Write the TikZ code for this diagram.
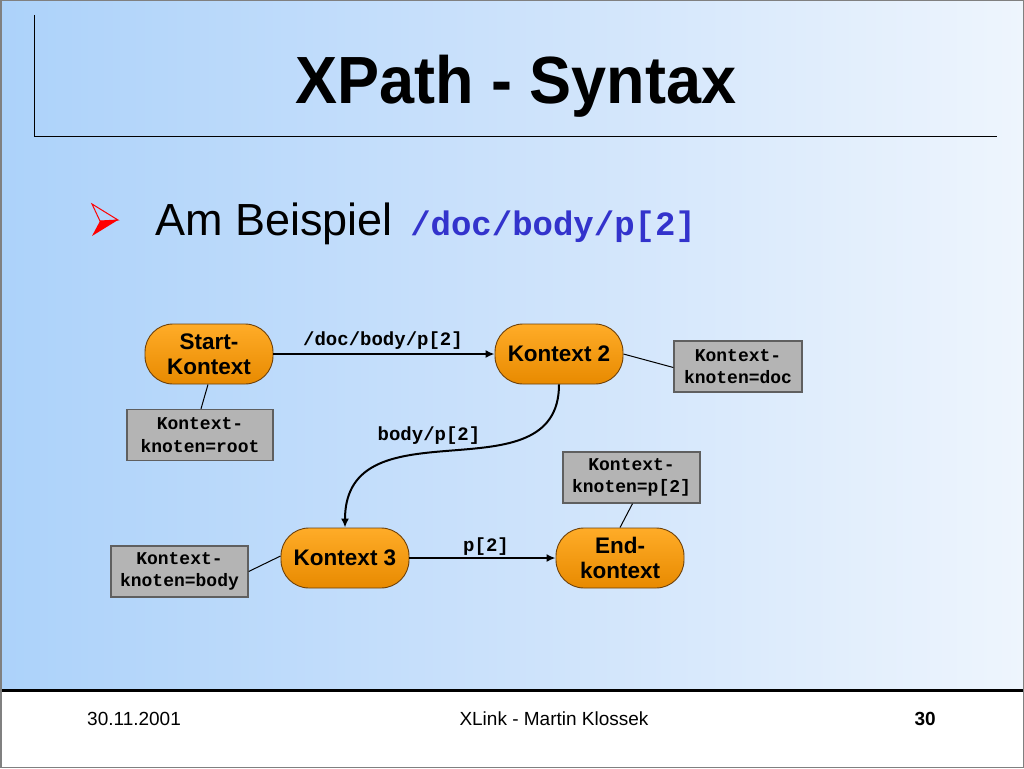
\documentclass[tikz,border=0pt]{standalone}
\usepackage{fontspec}
\setmainfont{Liberation Sans}
\setmonofont{Liberation Mono}
\usetikzlibrary{arrows.meta}
\definecolor{bgL}{RGB}{172,210,250}
\definecolor{bgM}{RGB}{204,226,251}
\definecolor{bgR}{RGB}{238,245,253}
\definecolor{orA}{RGB}{255,172,40}
\definecolor{orB}{RGB}{232,138,0}
\definecolor{orD}{RGB}{110,65,10}
\definecolor{boxfill}{RGB}{180,180,180}
\definecolor{boxborder}{RGB}{95,95,95}
\definecolor{codeblue}{RGB}{51,51,204}
\tikzset{
  ctx/.style={draw=orD, line width=0.9pt, rounded corners=28pt, top color=orA, bottom color=orB,
    minimum width=128pt, minimum height=60pt, inner sep=0pt, align=center,
    font=\fontsize{22.5}{25}\selectfont\bfseries},
  kbox/.style={draw=boxborder, line width=1.3pt, fill=boxfill, minimum height=51pt, inner sep=0pt,
    align=center, font=\fontsize{18}{22.5}\selectfont\ttfamily\bfseries},
  lbl/.style={inner sep=0pt, font=\fontsize{19}{22}\selectfont\ttfamily\bfseries},
  arr/.style={line width=2pt, -{Latex[length=9pt,width=8pt]}},
  thin/.style={line width=1pt}
}
\begin{document}
\begin{tikzpicture}[x=1pt,y=-1pt]
\useasboundingbox (0,0) rectangle (1024,768);
% background
\shade[left color=bgL, right color=bgR, middle color=bgM] (0,0) rectangle (1024,690);
\fill[white] (0,690) rectangle (1024,768);
\draw[line width=3pt] (0,690) -- (1024,690);
\draw[gray, line width=1.5pt] (0.75,0.75) rectangle (1023.25,767.25);
% title frame
\draw[line width=1pt] (34,15) -- (34,136) -- (997,136);
\node[anchor=base, inner sep=0pt, font=\fontsize{63}{70}\selectfont\bfseries] (title) at (516,103) {\scalebox{1}[1.06]{XPath - Syntax}};
% bullet
\draw[red, line width=1pt, line join=miter] (92,204) -- (118,220) -- (100,221) -- cycle;
\fill[red] (100,221) -- (118,220) -- (92,236) -- cycle;
\node[anchor=base west, inner sep=0pt, font=\fontsize{45}{50}\selectfont] (bullet) at (155,235)
  {Am Beispiel\hspace{5pt} {\fontsize{34}{36}\selectfont\ttfamily\bfseries\color{codeblue}/doc/body/p[2]}};
% context nodes
\node[ctx] (start) at (209,354) {Start-\\Kontext};
\node[ctx] (k2) at (559,354) {Kontext 2};
\node[ctx] (k3) at (345,558) {Kontext 3};
\node[ctx] (endk) at (620,558) {End-\\kontext};
% gray boxes
\node[kbox, minimum width=146pt] (root) at (200,435) {Kontext-\\knoten=root};
\node[kbox, minimum width=128pt] (doc) at (738,366.5) {Kontext-\\knoten=doc};
\node[kbox, minimum width=137pt] (p2box) at (631.5,477.5) {Kontext-\\knoten=p[2]};
\node[kbox, minimum width=137pt] (body) at (179.5,571.5) {Kontext-\\knoten=body};
% thin connectors
\draw[thin] ([xshift=-1pt]start.south) -- ([xshift=1pt]root.north);
\draw[thin] (k2.east) -- ([yshift=-1pt]doc.west);
\draw[thin] ([xshift=1pt]p2box.south) -- (endk.north);
\draw[thin] ([yshift=2pt]k3.west) -- (body.east);
% arrows
\draw[arr] (start.east) -- (k2.west);
\draw[arr] (k2.south) .. controls +(0,116) and +(0,-128) .. (k3.north);
\draw[arr] (k3.east) -- (endk.west);
% labels
\node[lbl] (lab1) at (383,341) {/doc/body/p[2]};
\node[lbl] (lab2) at (429,436) {body/p[2]};
\node[lbl] (lab3) at (486,547) {p[2]};
% footer
\node[anchor=base west, inner sep=0pt, font=\fontsize{19}{22}\selectfont] (date) at (87,725) {30.11.2001};
\node[anchor=base, inner sep=0pt, font=\fontsize{19}{22}\selectfont] (foot) at (554,725) {XLink - Martin Klossek};
\node[anchor=base east, inner sep=0pt, font=\fontsize{19}{22}\selectfont\bfseries] (page) at (936,725) {30};
\end{tikzpicture}
\end{document}
